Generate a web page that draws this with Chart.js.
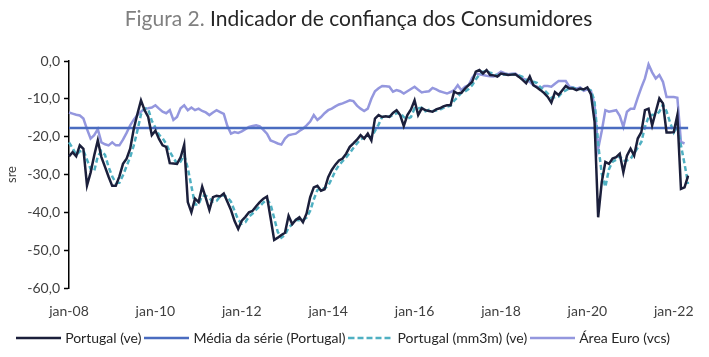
<!DOCTYPE html>
<html>
<head>
<meta charset="utf-8">
<script src="https://cdn.jsdelivr.net/npm/chart.js@4.4.1/dist/chart.umd.min.js"></script>
<style>
  html, body { margin: 0; padding: 0; background: #ffffff; }
  #wrap { position: relative; width: 709px; height: 357px; }
  #title { position: absolute; left: 4px; top: 5px; width: 709px; text-align: center;
           font-family: Lato, "Open Sans", sans-serif; font-size: 21px; color: #262626; white-space: nowrap; }
  #title .fig { color: #808080; }
  canvas { position: absolute; left: 0; top: 0; }
</style>
</head>
<body>
<div id="wrap">
  <canvas id="c" width="709" height="357"></canvas>
  <div id="title"><span class="fig">Figura 2.</span> Indicador de confiança dos Consumidores</div>
</div>
<script>
// ---- Data (monthly, jan-08 .. mai-22) ----
const monthNames = ['jan','fev','mar','abr','mai','jun','jul','ago','set','out','nov','dez'];
const startYear = 2008;
const nMonths = 173;
const categories = [];
for (let i = 0; i < nMonths; i++) {
  const y = startYear + Math.floor(i / 12);
  categories.push(monthNames[i % 12] + '-' + String(y).slice(2));
}
const tickLabels = ['jan-08','jan-10','jan-12','jan-14','jan-16','jan-18','jan-20','jan-22'];

const portugal = [
  -25.2,-24.1,-25.2,-22.3,-23.2,-32.9,-29.5,-25.0,-21.0,-25.4,
  -28.0,-30.6,-33.0,-33.0,-30.5,-27.2,-25.8,-23.2,-17.9,-14.0,
  -10.4,-13.0,-14.8,-19.6,-18.4,-20.6,-22.3,-22.7,-27.0,-27.1,
  -27.2,-25.5,-22.1,-37.3,-40.0,-36.4,-37.3,-33.2,-36.2,-39.4,
  -36.0,-35.6,-35.8,-35.0,-37.2,-39.4,-42.3,-44.4,-42.2,-41.2,
  -40.0,-39.6,-38.4,-37.3,-36.4,-35.8,-41.5,-47.3,-46.7,-46.0,
  -45.4,-40.9,-43.1,-42.0,-41.3,-42.6,-40.3,-36.0,-33.4,-33.0,
  -34.3,-33.9,-30.7,-28.8,-27.4,-26.3,-25.8,-24.5,-22.7,-21.8,
  -20.8,-19.6,-20.5,-19.2,-21.0,-15.2,-14.3,-14.8,-14.6,-14.8,
  -13.7,-13.0,-14.3,-17.2,-14.3,-12.8,-10.4,-14.3,-12.5,-13.0,
  -13.2,-13.4,-12.8,-12.5,-12.0,-11.7,-11.7,-8.1,-8.6,-8.4,
  -7.3,-6.4,-5.5,-2.8,-2.4,-3.3,-2.4,-3.7,-3.8,-4.1,
  -3.3,-3.5,-3.7,-3.6,-3.5,-4.2,-5.0,-5.9,-4.1,-6.4,
  -7.0,-7.7,-8.5,-9.5,-11.0,-8.2,-9.0,-7.8,-6.6,-7.3,
  -7.3,-7.7,-7.3,-7.5,-7.0,-8.8,-16.0,-41.3,-32.0,-26.7,
  -27.2,-25.8,-25.4,-24.5,-29.4,-25.0,-23.2,-25.0,-20.5,-18.8,
  -13.0,-12.6,-17.0,-13.4,-9.9,-11.2,-18.9,-18.9,-18.8,-14.3,
  -33.8,-33.4,-30.3
];

const portugalMm3m = [
  -21.5,-23.0,-24.8,-23.9,-23.6,-26.1,-28.5,-29.1,-25.2,-23.8,
  -24.8,-28.0,-30.5,-32.2,-32.2,-30.2,-27.8,-25.4,-22.3,-18.4,
  -14.1,-12.5,-12.7,-15.8,-17.6,-19.5,-20.4,-21.9,-24.0,-25.6,
  -27.1,-26.6,-24.9,-28.3,-33.1,-37.9,-37.9,-35.6,-35.6,-36.3,
  -37.2,-37.0,-35.8,-35.5,-36.0,-37.2,-39.6,-42.0,-43.0,-42.6,
  -41.1,-40.3,-39.3,-38.4,-37.4,-36.5,-37.9,-41.5,-45.2,-46.7,
  -46.0,-44.1,-43.1,-42.0,-42.1,-42.0,-41.4,-39.6,-36.6,-34.1,
  -33.6,-33.7,-33.0,-31.1,-29.0,-27.5,-26.5,-25.5,-24.3,-23.0,
  -21.8,-20.7,-20.3,-19.8,-20.2,-18.5,-16.8,-14.8,-14.6,-14.7,
  -14.4,-13.8,-13.7,-14.8,-15.3,-14.8,-12.5,-12.5,-12.4,-13.3,
  -12.9,-13.2,-13.1,-12.9,-12.4,-12.1,-11.8,-10.5,-9.5,-8.4,
  -8.1,-7.4,-6.4,-4.9,-3.6,-2.8,-2.7,-3.1,-3.3,-3.9,
  -3.7,-3.6,-3.5,-3.6,-3.6,-3.8,-4.2,-5.0,-5.0,-5.5,
  -5.8,-7.0,-7.7,-8.6,-9.7,-9.6,-9.4,-8.3,-7.8,-7.2,
  -7.1,-7.4,-7.4,-7.5,-7.3,-7.8,-10.6,-22.0,-29.8,-33.3,
  -28.6,-26.6,-26.1,-25.2,-26.4,-26.3,-25.9,-24.4,-22.9,-21.4,
  -17.4,-14.8,-14.2,-14.3,-13.4,-11.5,-13.3,-16.3,-18.9,-17.3,
  -22.3,-27.2,-32.5
];

const euroArea = [
  -13.6,-13.9,-14.2,-14.4,-15.2,-18.0,-20.5,-19.6,-18.0,-21.5,
  -22.0,-22.3,-21.5,-22.3,-22.3,-20.8,-19.0,-17.0,-15.5,-14.3,
  -13.4,-12.6,-12.5,-12.3,-11.7,-12.6,-13.4,-13.8,-13.0,-15.6,
  -14.8,-12.5,-11.7,-13.0,-12.3,-13.0,-12.6,-13.2,-13.6,-14.3,
  -13.6,-13.0,-13.5,-14.0,-17.2,-19.2,-18.8,-19.0,-18.6,-18.0,
  -17.4,-17.2,-17.0,-17.3,-18.2,-19.2,-21.0,-21.4,-21.8,-22.1,
  -20.5,-19.6,-19.4,-19.2,-18.5,-17.9,-17.0,-16.0,-14.3,-15.6,
  -14.8,-13.8,-13.0,-12.6,-12.0,-11.5,-11.2,-10.8,-10.4,-10.6,
  -11.8,-12.6,-13.2,-12.6,-10.0,-8.0,-7.2,-6.6,-6.7,-6.8,
  -8.1,-7.7,-8.0,-8.6,-8.0,-7.4,-6.8,-7.6,-8.3,-8.1,
  -8.0,-7.1,-7.5,-8.0,-8.3,-8.6,-8.2,-7.7,-6.4,-7.7,
  -6.8,-6.4,-4.5,-3.3,-3.5,-3.7,-3.9,-4.0,-4.1,-3.5,
  -2.8,-3.2,-3.5,-3.4,-3.3,-4.0,-4.6,-5.0,-5.5,-6.4,
  -6.8,-7.3,-6.6,-6.6,-6.8,-6.0,-5.3,-5.3,-5.3,-6.8,
  -7.0,-7.3,-7.0,-7.9,-7.5,-7.9,-11.6,-23.2,-18.5,-13.0,
  -13.4,-13.2,-13.0,-14.5,-17.4,-13.4,-12.6,-12.6,-9.7,-7.0,
  -4.6,-0.9,-3.0,-4.6,-3.7,-5.5,-9.5,-9.5,-9.5,-9.7,
  -21.4,-21.8,null
];

const seriesMean = -17.7;
const meanLine = categories.map(() => seriesMean);

const yTicks = [0, -10, -20, -30, -40, -50, -60];

// ---- Styles ----
const COLORS = { pt: '#1b1f3b', mean: '#4a6cc0', mm3m: '#4fb0c2', euro: '#9497de' };
const FONT = 'Lato, "Open Sans", sans-serif';
Chart.defaults.font.family = FONT;

// legend swatches (short line samples)
function swatch(color, dash) {
  const c = document.createElement('canvas');
  c.width = 45; c.height = 6;
  const g = c.getContext('2d');
  g.strokeStyle = color; g.lineWidth = 2.6;
  if (dash) g.setLineDash(dash);
  g.beginPath(); g.moveTo(0, 3); g.lineTo(45, 3); g.stroke();
  return c;
}

new Chart(document.getElementById('c'), {
  type: 'line',
  data: {
    labels: categories,
    datasets: [
      { label: 'Portugal (ve)', data: portugal, borderColor: COLORS.pt, backgroundColor: COLORS.pt,
        borderWidth: 2.5, pointRadius: 0, tension: 0, pointStyle: swatch(COLORS.pt) },
      { label: 'Média da série (Portugal)', data: meanLine, borderColor: COLORS.mean, backgroundColor: COLORS.mean,
        borderWidth: 2.5, pointRadius: 0, tension: 0, pointStyle: swatch(COLORS.mean) },
      { label: 'Portugal (mm3m) (ve)', data: portugalMm3m, borderColor: COLORS.mm3m, backgroundColor: COLORS.mm3m,
        borderWidth: 2.5, borderDash: [5, 3], pointRadius: 0, tension: 0, pointStyle: swatch(COLORS.mm3m, [6, 3]) },
      { label: 'Área Euro (vcs)', data: euroArea, borderColor: COLORS.euro, backgroundColor: COLORS.euro,
        borderWidth: 2.5, pointRadius: 0, tension: 0, spanGaps: false, pointStyle: swatch(COLORS.euro) }
    ]
  },
  options: {
    responsive: false,
    animation: false,
    devicePixelRatio: 1,
    layout: { padding: { left: 0, right: 20, top: 61, bottom: 2 } },
    plugins: {
      title: { display: false },
      tooltip: { enabled: false },
      legend: {
        position: 'bottom',
        labels: {
          usePointStyle: true,
          pointStyleWidth: 39,
          boxHeight: 14,
          padding: 6,
          color: '#262626',
          font: { family: FONT, size: 14 }
        }
      }
    },
    scales: {
      x: {
        type: 'category',
        offset: false,
        border: { display: false },
        grid: {
          drawTicks: false,
          lineWidth: 1.5,
          color: (ctx) => (ctx.index > 0 && tickLabels.includes(categories[ctx.index])) ? '#d9d9d9' : 'rgba(0,0,0,0)'
        },
        ticks: {
          autoSkip: false,
          maxRotation: 0,
          minRotation: 0,
          padding: 15,
          color: '#404040',
          font: { family: FONT, size: 14 },
          callback: function(value, index) {
            const lab = categories[index];
            return tickLabels.includes(lab) ? lab : null;
          }
        },
        afterFit: (scale) => { scale.height = 37; }
      },
      y: {
        min: -60,
        max: 0,
        afterBuildTicks: (scale) => { scale.ticks = yTicks.map(v => ({ value: v })); },
        border: { display: true, color: '#000000', width: 1.5 },
        grid: { drawOnChartArea: false, drawTicks: true, tickLength: 5, tickColor: '#000000', tickWidth: 1.5 },
        ticks: {
          padding: 4,
          color: '#404040',
          font: { family: FONT, size: 14 },
          callback: (v) => v.toFixed(1).replace('.', ',')
        },
        title: { display: true, text: 'sre', color: '#404040', font: { family: FONT, size: 13 }, padding: { top: 4, bottom: 4 } },
        afterFit: (scale) => { scale.width = 69; }
      }
    }
  }
});
</script>
</body>
</html>
